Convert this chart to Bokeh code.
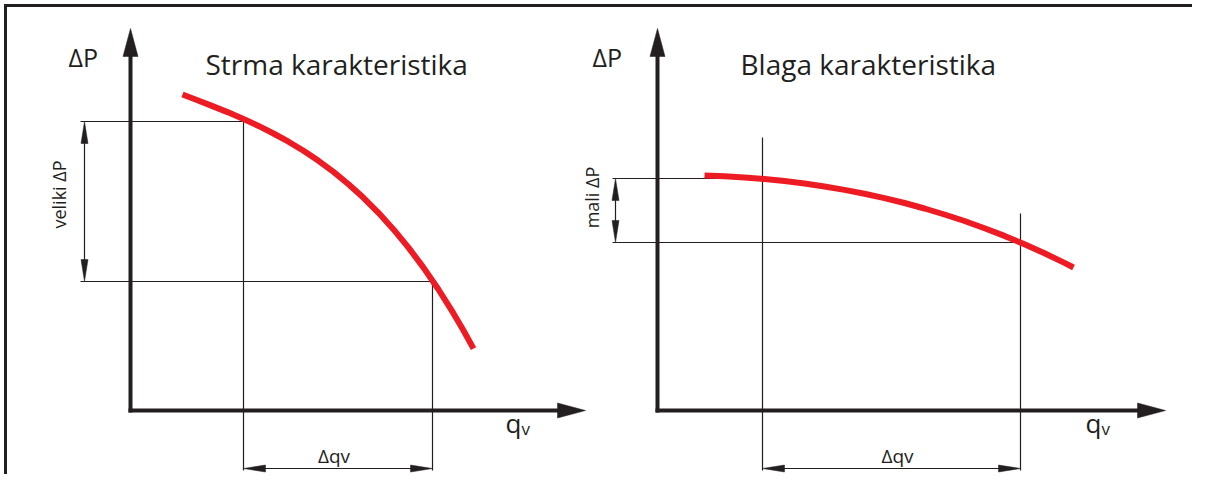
import math
from bokeh.plotting import figure
from bokeh.models import Range1d
from bokeh.core.properties import value
from bokeh.embed import file_html
from bokeh.resources import INLINE

# ---------------- data (panel units: qv to the right, dP upwards) ----------------
left_title = "Strma karakteristika"
right_title = "Blaga karakteristika"

left_qv = [52, 67, 82, 97, 113, 128, 143, 158, 173, 188, 203, 218, 233, 248, 263,
           278, 293, 308, 323, 333, 343]
left_dp = [316, 310.3, 304.4, 298.4, 291.5, 284.6, 277, 268.8, 259.7, 249.7, 238.6,
           226.3, 212.7, 197.7, 181.1, 162.9, 142.9, 121, 97.1, 80, 61.9]

right_qv = [47, 67, 87, 107, 127, 147, 167, 187, 207, 227, 247, 267, 287, 307, 327,
            347, 367, 387, 407, 416]
right_dp = [235, 234.2, 233, 231.4, 229.4, 227, 224, 220.6, 216.8, 212.4, 207.5, 202,
            196, 189.5, 182.3, 174.6, 166.2, 157.2, 147.6, 143]

left_op_qv = [113, 302]
left_op_dp = [289, 129]
right_op_qv = [105, 363]
right_op_dp = [232, 168]

left_dim_label = "veliki ΔP"
right_dim_label = "mali ΔP"
y_axis_label = "ΔP"
x_axis_label = ["q", "v"]
dq_label = "Δqv"

# ---------------- styling ----------------
INK = "#231f20"
RED = "#ed1c24"
FONT = value("Open Sans")
W, H = 1192, 474

p = figure(width=W, height=H, x_range=Range1d(0, W), y_range=Range1d(490 - H, 490),
           toolbar_location=None, output_backend="svg", min_border=0,
           x_axis_location=None, y_axis_location=None)
p.outline_line_color = None
p.background_fill_color = "white"
p.border_fill_color = "white"
p.grid.visible = False


def head(tx, ty, dx, dy, length, width):
    n = math.hypot(dx, dy)
    ux, uy = dx / n, dy / n
    bx, by = tx - ux * length, ty - uy * length
    px, py = -uy * width / 2, ux * width / 2
    return [tx, bx + px, bx - px], [ty, by + py, by - py]


# frame
p.line([5, 5], [490 - H, 486.5], line_color=INK, line_width=3)
p.line([3.5, W], [485, 485], line_color=INK, line_width=3)


def txt(x, y, s, size, align="center", angle=0.0):
    p.text(x=[x], y=[y], text=[s], text_font=FONT, text_font_size=size,
           text_color=INK, text_baseline="middle", text_align=align, angle=angle)


def panel(ox, oy, qv, dp, op_q, op_dp, x_tip, title, title_dx, dim_label,
          dim_lab_xy, guide_left, dim_x, vert_tops, ylab_dx, qlab_dx, dq_dx):
    y_tip = 382
    # axes with arrowheads
    p.line([ox, ox], [oy - 2, oy + y_tip - 20], line_color=INK, line_width=4)
    p.line([ox - 2, ox + x_tip - 20], [oy, oy], line_color=INK, line_width=4)
    hx, hy = head(ox, oy + y_tip, 0, 1, 28, 15)
    gx, gy = head(ox + x_tip, oy, 1, 0, 28, 15)
    p.patches([hx, gx], [hy, gy], fill_color=INK, line_color=INK, line_width=0.5)

    # guide lines
    xs, ys = [], []
    for q, d in zip(op_q, op_dp):
        xs.append([ox + guide_left, ox + q])
        ys.append([oy + d, oy + d])
    for q, top in zip(op_q, vert_tops):
        xs.append([ox + q, ox + q])
        ys.append([oy + top, oy - 60])
    # dimension lines
    xs.append([ox + dim_x, ox + dim_x])
    ys.append([oy + op_dp[0] - 15, oy + op_dp[1] + 15])
    xs.append([ox + op_q[0] + 15, ox + op_q[1] - 15])
    ys.append([oy - 58, oy - 58])
    p.multi_line(xs, ys, line_color=INK, line_width=1.2)

    a1 = head(ox + dim_x, oy + op_dp[0], 0, 1, 22, 7)
    a2 = head(ox + dim_x, oy + op_dp[1], 0, -1, 22, 7)
    a3 = head(ox + op_q[0], oy - 58, -1, 0, 22, 7)
    a4 = head(ox + op_q[1], oy - 58, 1, 0, 22, 7)
    p.patches([a[0] for a in (a1, a2, a3, a4)], [a[1] for a in (a1, a2, a3, a4)],
              fill_color=INK, line_color=INK, line_width=0.5)

    # characteristic curve
    p.line([ox + q for q in qv], [oy + d for d in dp], line_color=RED, line_width=6,
           line_join="round")

    # texts
    txt(ox + title_dx, oy + 347, title, "28px", align="left")
    txt(ox + ylab_dx, oy + 354, y_axis_label, "25px", align="left")
    txt(ox + qlab_dx, oy - 12, x_axis_label[0], "26px", align="left")
    txt(ox + qlab_dx + 16, oy - 18, x_axis_label[1], "17px", align="left")
    txt(ox + (op_q[0] + op_q[1]) / 2 + dq_dx, oy - 45, dq_label, "19px")
    txt(ox + dim_lab_xy[0], oy + dim_lab_xy[1], dim_label, "18px", angle=math.pi / 2)


panel(130, 80, left_qv, left_dp, left_op_qv, left_op_dp, 455, left_title, 75,
      left_dim_label, (-72, 216), -50, -46, left_op_dp, -62, 375, -4)
panel(657, 80, right_qv, right_dp, right_op_qv, right_op_dp, 508, right_title, 83,
      right_dim_label, (-66, 213), -45, -42, [273, 197], -65, 428, 6)

open("out.html", "w").write(file_html(p, INLINE))
